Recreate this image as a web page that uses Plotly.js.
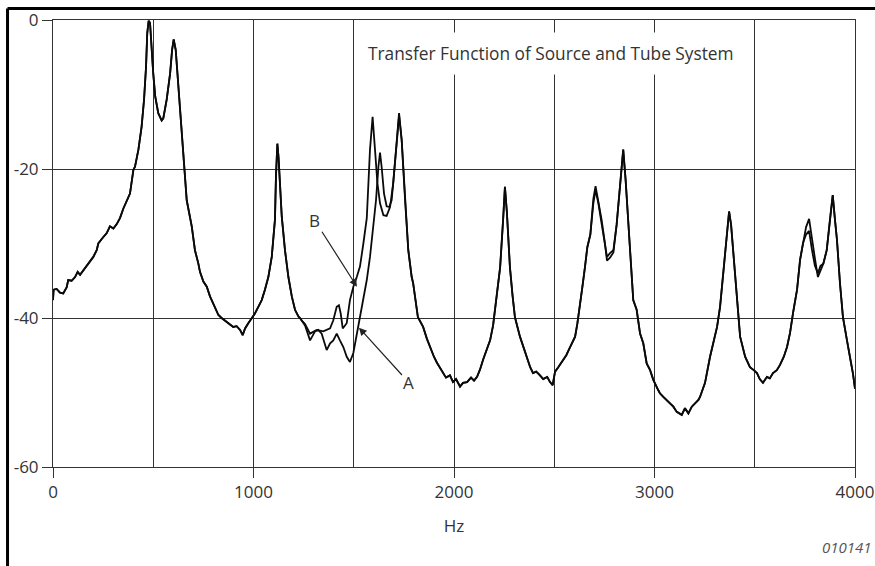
<!DOCTYPE html>
<html>
<head>
<meta charset="utf-8">
<script src="https://cdn.plot.ly/plotly-3.0.1.min.js"></script>
<style>
  html, body { margin: 0; padding: 0; background: #fff; }
  #chart { width: 875px; height: 566px; }
</style>
</head>
<body>
<div id="chart"></div>
<script>
// ---- Data (Hz, dB) ----
// Shared low-frequency segment (both curves coincide)
const lowHz = [0,3,18,35,51,68,76,93,110,123,135,151,168,185,201,218,226,243,268,284,301,318,334,351,368,384,401,409,426,442,454,464,470,477,484,492,500,510,525,542,550,567,584,594,602,612,625,642,658,667,692,708,725,733,750,767,783,808,825,841,866,883,899,916,933,946,958,974,991,1007,1024,1041,1057,1074,1091,1107,1112,1119,1125,1131,1137,1141,1157,1174,1191,1207,1224,1232,1242];
const lowDb = [-37.6,-36.2,-36.1,-36.6,-36.7,-35.9,-34.9,-35.0,-34.5,-33.8,-34.2,-33.6,-32.9,-32.4,-31.8,-30.9,-30.0,-29.4,-28.6,-27.7,-28.0,-27.4,-26.6,-25.3,-24.2,-23.3,-20.1,-19.7,-17.4,-14.3,-10.7,-6.3,-1.8,-0.1,-0.4,-4.0,-7.2,-10.3,-12.5,-13.5,-13.2,-10.7,-7.2,-4.0,-2.6,-4.0,-8.5,-15.2,-20.6,-24.2,-27.7,-30.9,-32.7,-33.8,-35.1,-35.8,-37.1,-38.5,-39.6,-40.0,-40.5,-40.9,-41.2,-41.1,-41.6,-42.3,-41.4,-40.7,-40.0,-39.4,-38.5,-37.6,-36.2,-34.5,-31.8,-26.8,-21.0,-16.6,-18.5,-21.0,-23.3,-26.4,-30.9,-34.5,-37.1,-38.9,-39.8,-40.0,-40.4];

// Curve A, middle segment (deep dip near 1480 Hz)
const midAHz = [1257,1282,1307,1323,1340,1365,1382,1398,1415,1431,1448,1465,1481,1498,1515,1531,1548,1565,1581,1598,1611,1623,1631,1639,1651,1664,1677,1689,1701,1714,1726,1739,1756,1772,1789];
const midADb = [-41.0,-43.0,-41.8,-41.6,-42.1,-44.3,-43.4,-43.0,-42.1,-43.0,-43.9,-45.2,-45.9,-44.7,-42.1,-39.8,-37.6,-34.9,-31.8,-27.7,-24.2,-19.7,-17.8,-19.7,-23.3,-25.0,-25.1,-24.2,-21.0,-16.6,-12.8,-16.1,-24.2,-30.9,-34.5];

// Curve B, middle segment (bump near 1420 Hz, peak at 1594 Hz)
const midBHz = [1257,1282,1315,1348,1382,1398,1415,1426,1435,1445,1465,1481,1498,1515,1531,1548,1565,1581,1594,1606,1618,1631,1648,1664,1681,1697,1714,1726,1739,1756,1772,1789];
const midBDb = [-40.8,-42.1,-41.6,-41.8,-41.4,-40.3,-38.5,-38.3,-39.4,-41.4,-40.7,-37.6,-35.8,-34.5,-33.1,-30.0,-26.6,-17.4,-13.0,-17.4,-21.9,-24.6,-26.2,-26.3,-25.1,-21.9,-16.1,-12.5,-16.1,-24.2,-30.9,-34.5];

// Shared segment 1796-2680 Hz
const high1Hz = [1796,1820,1846,1865,1880,1900,1915,1945,1960,1980,1995,2010,2030,2045,2065,2085,2100,2115,2130,2145,2165,2180,2195,2205,2220,2230,2245,2254,2264,2279,2292,2304,2329,2345,2364,2380,2394,2410,2429,2445,2465,2479,2492,2504,2520,2544,2560,2579,2604,2615,2628,2640,2653,2665,2680];
const high1Db = [-35.3,-39.9,-41.2,-42.8,-43.9,-45.2,-46.0,-47.4,-48.0,-47.7,-48.6,-48.2,-49.2,-48.7,-48.6,-48.0,-48.4,-47.9,-46.9,-45.6,-44.2,-43.0,-41.0,-38.9,-35.8,-33.2,-26.8,-22.4,-25.9,-33.2,-37.0,-39.9,-42.5,-43.8,-45.2,-46.6,-47.4,-47.2,-47.7,-48.2,-47.9,-48.6,-49.0,-47.2,-46.6,-45.6,-45.0,-43.9,-42.5,-40.8,-38.5,-35.9,-33.2,-30.5,-28.8];

// Small differences around the 2706 Hz peak
const pairAHz = [2695,2706,2720,2736,2753,2763,2778,2795];
const pairADb = [-24.6,-22.8,-24.6,-27.3,-30.0,-31.8,-31.3,-30.9];
const pairBHz = [2695,2706,2720,2736,2753,2763,2778,2795];
const pairBDb = [-24.0,-22.3,-24.2,-26.8,-30.0,-32.3,-31.9,-31.2];

// Shared segment 2811-3741 Hz
const high2Hz = [2811,2828,2844,2856,2869,2878,2894,2911,2928,2944,2961,2978,2994,3019,3027,3044,3061,3077,3094,3111,3136,3152,3169,3186,3202,3219,3227,3252,3277,3292,3312,3327,3342,3362,3372,3382,3392,3412,3427,3452,3476,3495,3511,3525,3541,3561,3575,3591,3610,3626,3645,3661,3676,3691,3711,3726,3741];
const high2Db = [-27.5,-22.4,-17.4,-21.5,-27.3,-30.6,-37.6,-38.9,-42.1,-43.4,-46.1,-47.0,-48.3,-49.7,-50.1,-50.6,-51.0,-51.5,-51.9,-52.6,-53.0,-52.1,-52.8,-51.9,-51.5,-51.0,-50.6,-48.7,-45.2,-43.4,-41.2,-38.5,-34.5,-28.2,-25.7,-27.5,-30.9,-38.0,-42.5,-45.2,-46.6,-47.0,-47.4,-48.2,-48.7,-47.9,-48.1,-47.4,-47.0,-46.3,-45.2,-43.9,-42.0,-39.3,-36.2,-32.2,-29.9];

// Small differences around the 3771 Hz peak
const tailAHz = [3756,3771,3785,3800,3815,3828];
const tailADb = [-28.8,-28.3,-30.8,-33.0,-34.0,-33.0];
const tailBHz = [3756,3771,3785,3800,3815,3828];
const tailBDb = [-27.8,-26.7,-29.5,-32.0,-34.5,-33.6];

// Shared segment 3842-4000 Hz
const high3Hz = [3842,3859,3875,3889,3900,3910,3925,3940,3960,3975,3990,4000];
const high3Db = [-32.7,-30.9,-26.8,-23.5,-26.8,-29.5,-35.3,-39.9,-43.0,-45.2,-47.5,-49.5];

const xTickVals = [0,1000,2000,3000,4000];
const xMinorVals = [500,1500,2500,3500];
const yTickVals = [-60,-40,-20,0];
const yTickText = ['-60','-40','-20','0'];

const titleText = 'Transfer Function of Source and Tube System';
const xTitle = 'Hz';
const figId = '010141';

// ---- Build curves ----
const hzA = [].concat(lowHz, midAHz, high1Hz, pairAHz, high2Hz, tailAHz, high3Hz);
const dbA = [].concat(lowDb, midADb, high1Db, pairADb, high2Db, tailADb, high3Db);
const hzB = [].concat(lowHz, midBHz, high1Hz, pairBHz, high2Hz, tailBHz, high3Hz);
const dbB = [].concat(lowDb, midBDb, high1Db, pairBDb, high2Db, tailBDb, high3Db);

const lineStyle = {color: '#0a0a0a', width: 1.8};
const traces = [
  {x: hzA, y: dbA, type: 'scatter', mode: 'lines', name: 'A', line: lineStyle, hoverinfo: 'skip'},
  {x: hzB, y: dbB, type: 'scatter', mode: 'lines', name: 'B', line: lineStyle, hoverinfo: 'skip'}
];

const FONT = 'Open Sans, Noto Sans, Liberation Sans, sans-serif';
const axisCommon = {
  ticks: 'outside', ticklen: 10, tickwidth: 1, tickcolor: '#333',
  showgrid: true, gridcolor: '#333', gridwidth: 1,
  showline: true, mirror: true, linecolor: '#333', linewidth: 1,
  zeroline: false, fixedrange: true,
  tickfont: {family: FONT, size: 17, color: '#333'}
};

const layout = {
  width: 875, height: 566,
  margin: {l: 53, r: 20, t: 20, b: 99},
  paper_bgcolor: '#fff', plot_bgcolor: '#fff',
  showlegend: false,
  font: {family: FONT, size: 16, color: '#333'},
  xaxis: Object.assign({}, axisCommon, {
    range: [0, 4000], tickmode: 'array', tickvals: xTickVals,
    minor: {tickmode: 'array', tickvals: xMinorVals, showgrid: true, gridcolor: '#333', gridwidth: 1, ticks: ''},
    title: {text: xTitle, standoff: 17, font: {family: FONT, size: 17, color: '#333'}}
  }),
  yaxis: Object.assign({}, axisCommon, {
    range: [-60, 0], tickmode: 'array', tickvals: yTickVals, ticktext: yTickText
  }),
  annotations: [
    {x: 2484, y: -4.43, xref: 'x', yref: 'y', text: titleText, showarrow: false,
     bgcolor: '#fff', borderpad: 9, font: {family: FONT, size: 17.3, color: '#333'}},
    {x: 1516, y: -35.8, xref: 'x', yref: 'y', text: 'B', showarrow: true,
     ax: -42, ay: -66, arrowhead: 2, arrowsize: 1.3, arrowwidth: 1.2, arrowcolor: '#222', standoff: 0,
     font: {family: FONT, size: 17, color: '#333'}},
    {x: 1526, y: -41.3, xref: 'x', yref: 'y', text: 'A', showarrow: true,
     ax: 50, ay: 55, arrowhead: 2, arrowsize: 1.3, arrowwidth: 1.2, arrowcolor: '#222', standoff: 0,
     font: {family: FONT, size: 17, color: '#333'}},
    {x: 1.0235, y: -0.179, xref: 'paper', yref: 'paper', xanchor: 'right', yanchor: 'middle',
     text: '<i>' + figId + '</i>', showarrow: false, font: {family: FONT, size: 15, color: '#555'}}
  ],
  shapes: [
    {type: 'line', xref: 'paper', yref: 'paper', x0: -0.0567, x1: -0.0567, y0: -0.3, y1: 1.0257,
     line: {color: '#000', width: 3}},
    {type: 'line', xref: 'paper', yref: 'paper', x0: -0.0567, x1: 1.1, y0: 1.0257, y1: 1.0257,
     line: {color: '#000', width: 3}}
  ]
};

Plotly.newPlot('chart', traces, layout, {displayModeBar: false, staticPlot: true});
</script>
</body>
</html>
